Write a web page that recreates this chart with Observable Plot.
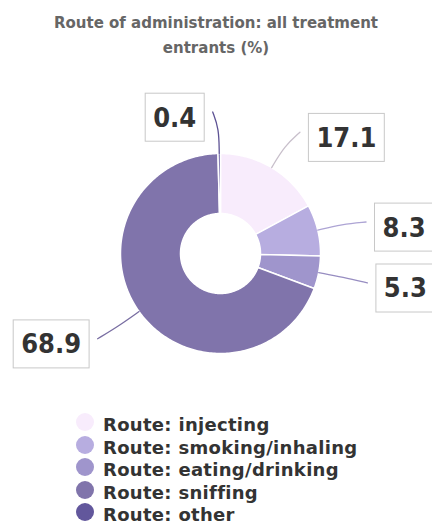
<!DOCTYPE html>
<html>
<head>
<meta charset="utf-8">
<script src="https://cdn.jsdelivr.net/npm/d3@7"></script>
<script src="https://cdn.jsdelivr.net/npm/@observablehq/plot@0.6"></script>
<style>
  html, body { margin: 0; padding: 0; background: #fff; }
  body { width: 432px; height: 526px; overflow: hidden; font-family: "DejaVu Sans", sans-serif; }
  #title { box-sizing: border-box; height: 70px; padding-top: 11px; text-align: center;
           font-weight: bold; font-size: 15px; line-height: 25px; color: #666; }
  #chart svg { display: block; }
  #legend { position: relative; height: 126px; }
  .row { position: absolute; left: 0; width: 432px; height: 22.5px; }
  .dot { position: absolute; left: 76px; top: -1px; width: 18px; height: 18px; border-radius: 50%; }
  .txt { position: absolute; left: 103px; top: 0; line-height: 22.5px; font-size: 18px; letter-spacing: 0.3px;
         font-weight: bold; color: #333; white-space: nowrap; }
</style>
</head>
<body>
<div id="title">Route of administration: all treatment<br>entrants (%)</div>
<div id="chart"></div>
<div id="legend"></div>
<script>
// ---- data ----
const routes = ["Route: injecting", "Route: smoking/inhaling", "Route: eating/drinking", "Route: sniffing", "Route: other"];
const values = [17.1, 8.3, 5.3, 68.9, 0.4];
const colors = ["#f8ecfc", "#b7ade0", "#9f95cc", "#8074ab", "#62579c"];

// ---- geometry helpers ----
const data = routes.map((route, i) => ({route, value: values[i], label: values[i].toFixed(1)}));
const arcs = d3.pie().sort(null).value(d => d.value).startAngle(0).endAngle(2 * Math.PI)(data);
const R_IN = 0.4, R_OUT = 1, R_LABEL = 1.435;
const pt = (a, r) => [r * Math.sin(a), r * Math.cos(a)];

const slicePts = arcs.flatMap(arc => {
  const span = arc.endAngle - arc.startAngle;
  const n = Math.max(2, Math.ceil(span / (Math.PI / 180)));
  const pts = [];
  for (let i = 0; i <= n; i++) {
    const [x, y] = pt(arc.startAngle + span * i / n, R_OUT);
    pts.push({route: arc.data.route, x, y});
  }
  for (let i = n; i >= 0; i--) {
    const [x, y] = pt(arc.startAngle + span * i / n, R_IN);
    pts.push({route: arc.data.route, x, y});
  }
  return pts;
});

const colorOf = Object.fromEntries(routes.map((r, i) => [r, colors[i]]));
const labelInfo = arcs.map(arc => {
  const mid = (arc.startAngle + arc.endAngle) / 2;
  const side = Math.sin(mid) >= 0 ? 1 : -1;
  const [lx, ly] = pt(mid, R_LABEL);
  return {route: arc.data.route, label: arc.data.label, mid, side, lx, ly};
});
const connPts = labelInfo.flatMap(d => {
  const [x0, y0] = pt(d.mid, 1.0);
  const [x1, y1] = pt(d.mid, 1.25);
  const conn = d3.color(colorOf[d.route]).darker(d.route === routes[0] ? 0.6 : 0.15).formatHex();
  return [
    {route: d.route, x: x0, y: y0, c: conn},
    {route: d.route, x: x1, y: y1, c: conn},
    {route: d.route, x: d.lx + d.side * 0.06, y: d.ly - 0.02, c: conn}
  ];
});

const labelFont = "'DejaVu Sans Condensed', 'DejaVu Sans', sans-serif";

const chart = Plot.plot({
  width: 432,
  height: 330,
  margin: 0,
  x: {domain: [-2.2, 2.12], axis: null},
  y: {domain: [-1.47, 1.83], axis: null},
  color: {domain: routes, range: colors},
  style: {background: "transparent", overflow: "visible"},
  marks: [
    Plot.line(slicePts, {x: "x", y: "y", z: "route", fill: "route", stroke: "white", strokeWidth: 1.5, curve: "linear-closed"}),
    Plot.line(connPts, {x: "x", y: "y", z: "route", stroke: "c", strokeWidth: 1.3, curve: "basis"}),
    Plot.text(labelInfo.filter(d => d.side > 0), {x: "lx", y: "ly", text: "label", textAnchor: "start", dx: 22.5, dy: 8,
      fontSize: 27, fontWeight: "bold", fontFamily: labelFont, fill: "#333"}),
    Plot.text(labelInfo.filter(d => d.side < 0), {x: "lx", y: "ly", text: "label", textAnchor: "end", dx: -22.5, dy: 8,
      fontSize: 27, fontWeight: "bold", fontFamily: labelFont, fill: "#333"})
  ]
});
document.getElementById("chart").appendChild(chart);

// label boxes behind the value labels
const svg = chart.tagName.toLowerCase() === "svg" ? chart : chart.querySelector("svg");
const sRect = svg.getBoundingClientRect();
const textGroups = svg.querySelectorAll('g[aria-label="text"]');
if (textGroups.length) {
  const boxG = document.createElementNS("http://www.w3.org/2000/svg", "g");
  textGroups.forEach(g => g.querySelectorAll("text").forEach(t => {
    const r = t.getBoundingClientRect();
    const cy = (r.top + r.bottom) / 2 - sRect.top;
    const rect = document.createElementNS("http://www.w3.org/2000/svg", "rect");
    rect.setAttribute("x", (r.left - sRect.left - 8).toFixed(1));
    rect.setAttribute("y", (cy - 24).toFixed(1));
    rect.setAttribute("width", (r.width + 16).toFixed(1));
    rect.setAttribute("height", 48);
    rect.setAttribute("fill", "white");
    rect.setAttribute("stroke", "#c8c8c8");
    rect.setAttribute("stroke-width", 1);
    boxG.appendChild(rect);
  }));
  svg.insertBefore(boxG, textGroups[0]);
}

// legend
const legend = document.getElementById("legend");
routes.forEach((r, i) => {
  const row = document.createElement("div");
  row.className = "row";
  row.style.top = (14 + 22.5 * i) + "px";
  const dot = document.createElement("div");
  dot.className = "dot";
  dot.style.background = chart.scale("color").apply(r);
  const txt = document.createElement("div");
  txt.className = "txt";
  txt.textContent = r;
  row.appendChild(dot);
  row.appendChild(txt);
  legend.appendChild(row);
});
</script>
</body>
</html>
